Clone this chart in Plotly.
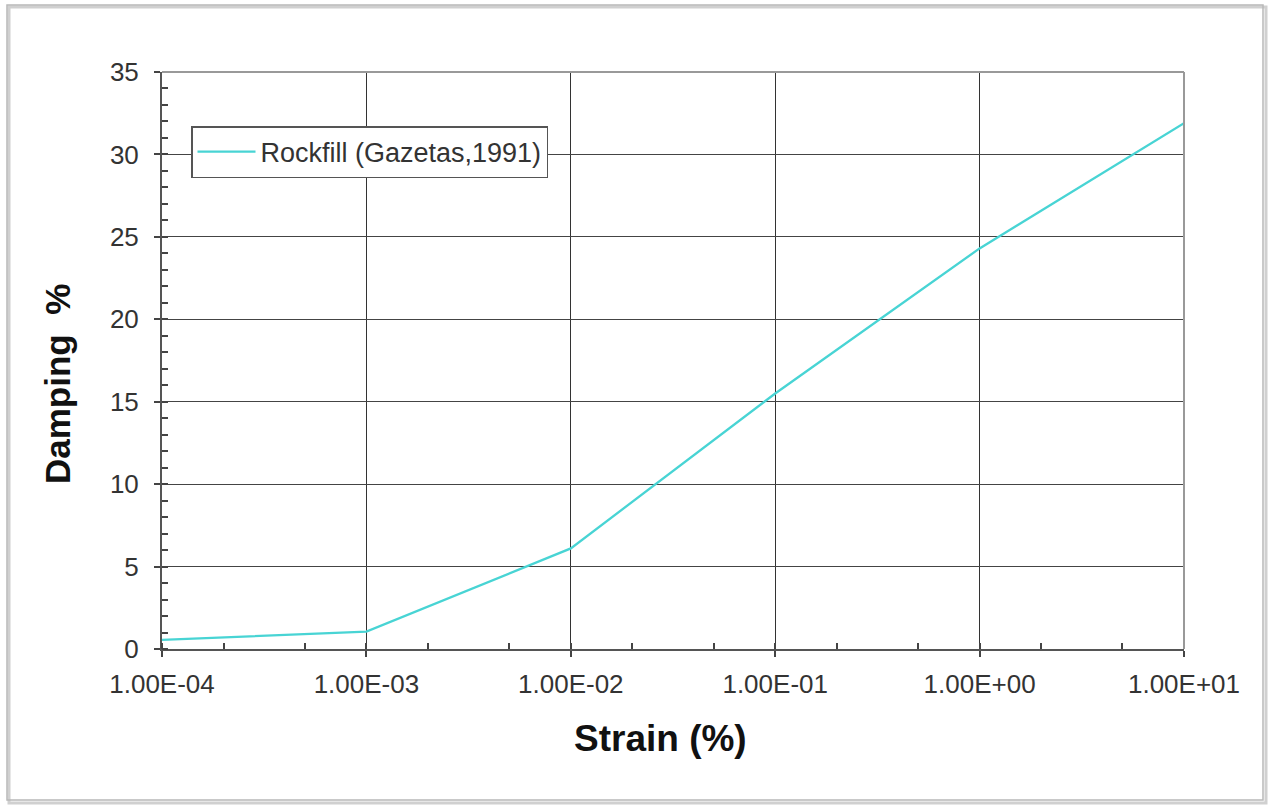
import plotly.graph_objects as go

# Damping curve for rockfill
strain_pct = [1e-4, 1e-3, 1e-2, 1e-1, 1e0, 1e1]
damping_pct = [0.55, 1.05, 6.1, 15.5, 24.3, 31.9]
series_name = "Rockfill (Gazetas,1991)"

x_tick_vals = [1e-4, 1e-3, 1e-2, 1e-1, 1e0, 1e1]
x_tick_text = ["1.00E-04", "1.00E-03", "1.00E-02", "1.00E-01", "1.00E+00", "1.00E+01"]
y_tick_vals = [0, 5, 10, 15, 20, 25, 30, 35]

W, H = 1272, 807
L, R, T, B = 162, 88, 72, 158
pw, ph = W - L - R, H - T - B


def px(x):
    return (x - L) / pw


def py(y):
    return (H - B - y) / ph


fig = go.Figure()
fig.add_trace(go.Scatter(
    x=strain_pct, y=damping_pct, mode="lines", name=series_name,
    line=dict(color="#48d4d4", width=2.3),
    showlegend=True,
))

font_family = "Liberation Sans, Arial, sans-serif"

fig.update_layout(
    width=W, height=H,
    margin=dict(l=L, r=R, t=T, b=B),
    paper_bgcolor="white", plot_bgcolor="white",
    font=dict(family=font_family, color="#333333", size=26),
    showlegend=True,
    legend=dict(
        x=px(191), y=py(126), xanchor="left", yanchor="top",
        bgcolor="white", bordercolor="#555555", borderwidth=1.5,
        font=dict(size=27, color="#333333"),
        itemwidth=58,
    ),
    xaxis=dict(
        type="log", range=[-4, 1],
        tickmode="array", tickvals=x_tick_vals, ticktext=x_tick_text,
        ticks="outside", ticklen=6, tickcolor="#444444", tickwidth=1.5,
        ticklabelstandoff=5,
        showline=True, linecolor="#555555", linewidth=2,
        showgrid=True, gridcolor="#333333", gridwidth=1,
        zeroline=False,
        minor=dict(ticks="inside", ticklen=6, tickcolor="#444444", tickwidth=1.5, showgrid=False),
        tickfont=dict(size=26, color="#333333"),
    ),
    yaxis=dict(
        range=[0, 35], tickvals=y_tick_vals,
        ticks="outside", ticklen=6, tickcolor="#444444", tickwidth=1.5,
        ticklabelstandoff=10,
        showline=True, linecolor="#555555", linewidth=2,
        showgrid=True, gridcolor="#444444", gridwidth=1,
        zeroline=False,
        minor=dict(dtick=1, ticks="inside", ticklen=6, tickcolor="#444444", tickwidth=1.5, showgrid=False),
        tickfont=dict(size=26, color="#333333"),
    ),
)

# Axis titles
fig.add_annotation(
    text="<b>Strain (%)</b>", xref="paper", yref="paper",
    x=px(660), y=py(738), xanchor="center", yanchor="middle",
    showarrow=False, font=dict(size=37, color="#111111", family=font_family),
)
fig.add_annotation(
    text="<b>Damping  %</b>", xref="paper", yref="paper",
    x=px(57), y=py(384), xanchor="center", yanchor="middle", textangle=-90,
    showarrow=False, font=dict(size=35, color="#111111", family=font_family),
)

# Gray frame on top and right of plot area
fig.add_shape(type="line", xref="paper", yref="paper", x0=0, x1=1, y0=1, y1=1,
              line=dict(color="#999999", width=2))
fig.add_shape(type="line", xref="paper", yref="paper", x0=1, x1=1, y0=0, y1=1,
              line=dict(color="#999999", width=2))

# Outer chart border with a soft shadow
fig.add_shape(type="rect", xref="paper", yref="paper",
              x0=px(9), x1=px(1266), y0=py(803), y1=py(7),
              line=dict(color="#d0d0d0", width=3), layer="below")
fig.add_shape(type="rect", xref="paper", yref="paper",
              x0=px(7), x1=px(1263), y0=py(800), y1=py(5),
              line=dict(color="#b8b8b8", width=1.5), layer="below")

fig.write_html("out.html")
